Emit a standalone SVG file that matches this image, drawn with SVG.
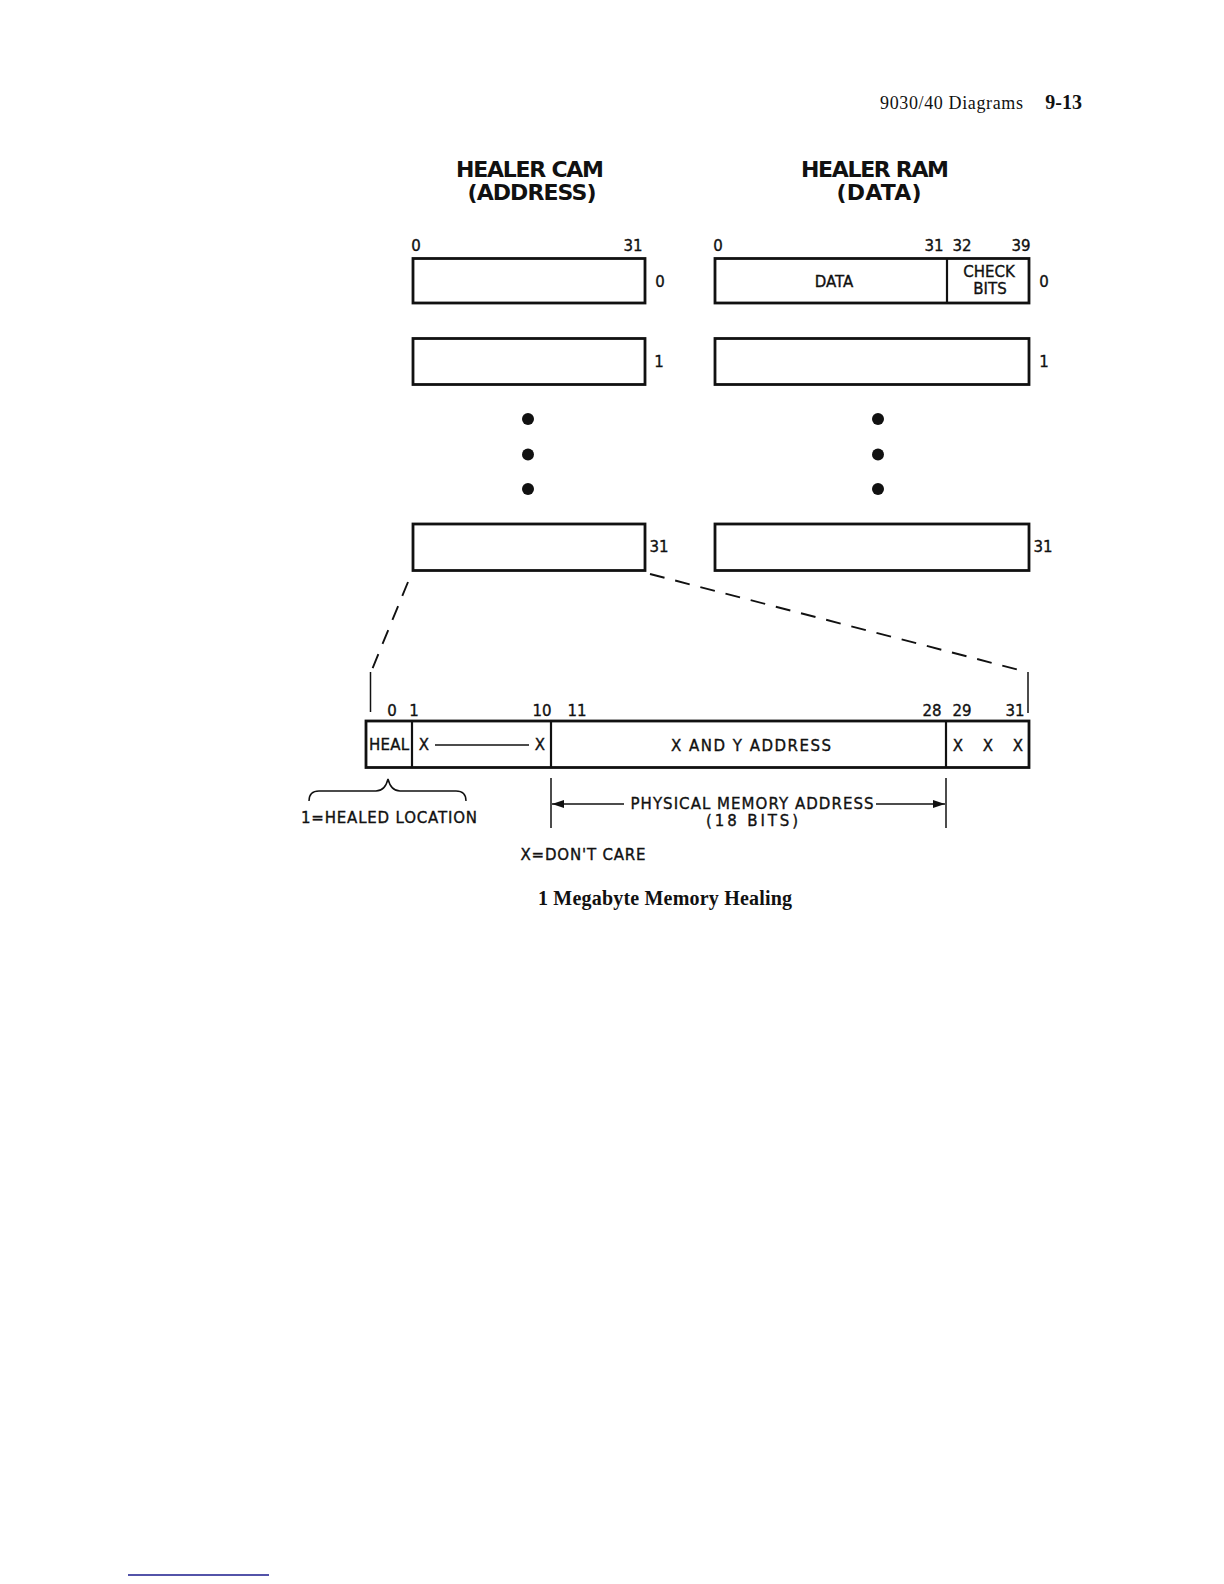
<svg xmlns="http://www.w3.org/2000/svg" width="1224" height="1584" viewBox="0 0 1224 1584">
<style>
.box{fill:none;stroke:#111;stroke-width:2.8}
.div{stroke:#111;stroke-width:2.2}
.t{font-family:"DejaVu Sans","Liberation Sans",sans-serif;font-size:15px;fill:#111;stroke:#111;stroke-width:0.35;text-anchor:middle;dominant-baseline:central}
.title{font-family:"DejaVu Sans","Liberation Sans",sans-serif;font-size:22px;font-weight:bold;fill:#111;text-anchor:middle;dominant-baseline:central}
.dash{fill:none;stroke:#111;stroke-width:1.9;stroke-dasharray:15 11}
.thin{fill:none;stroke:#111;stroke-width:1.5}
.dot{fill:#111}
</style>
<defs>
<marker id="ah" viewBox="0 0 12 8" refX="12" refY="4" markerWidth="13" markerHeight="8" orient="auto" markerUnits="userSpaceOnUse">
<path d="M0,0 L12,4 L0,8 Z" fill="#111"/>
</marker>
</defs>
<rect width="1224" height="1584" fill="#fff"/>

<g id="header">
<text x="1023" y="109" font-family="Liberation Serif,serif" font-size="18" text-anchor="end" fill="#111" textLength="143">9030/40 Diagrams</text>
<text x="1082" y="109" font-family="Liberation Serif,serif" font-size="20" font-weight="bold" text-anchor="end" fill="#111">9-13</text>
</g>

<g id="cam-title">
<text class="title" x="530" y="169" textLength="148">HEALER CAM</text>
<text class="title" x="532" y="192" textLength="129">(ADDRESS)</text>
</g>
<g id="ram-title">
<text class="title" x="875" y="169" textLength="148">HEALER RAM</text>
<text class="title" x="879" y="192" textLength="85">(DATA)</text>
</g>

<g id="cam-bits">
<text class="t" x="416" y="246">0</text>
<text class="t" x="633" y="246">31</text>
</g>
<g id="ram-bits">
<text class="t" x="718" y="246">0</text>
<text class="t" x="934" y="246">31</text>
<text class="t" x="962" y="246">32</text>
<text class="t" x="1021" y="246">39</text>
</g>

<g id="cam-row0">
<rect class="box" x="413" y="258.5" width="232" height="44.5"/>
<text class="t" x="660" y="282">0</text>
</g>
<g id="ram-row0">
<rect class="box" x="715" y="258.5" width="314" height="44.5"/>
<line class="div" x1="947" y1="258.5" x2="947" y2="303"/>
<text class="t" x="834" y="282">DATA</text>
<text class="t" x="989" y="272">CHECK</text>
<text class="t" x="990" y="289">BITS</text>
<text class="t" x="1044" y="282">0</text>
</g>

<g id="cam-row1">
<rect class="box" x="413" y="338.5" width="232" height="46"/>
<text class="t" x="659" y="362">1</text>
</g>
<g id="ram-row1">
<rect class="box" x="715" y="338.5" width="314" height="46"/>
<text class="t" x="1044" y="362">1</text>
</g>

<g id="cam-dots">
<circle class="dot" cx="528" cy="419" r="6"/>
<circle class="dot" cx="528" cy="454.5" r="6"/>
<circle class="dot" cx="528" cy="489" r="6"/>
</g>
<g id="ram-dots">
<circle class="dot" cx="878" cy="419" r="6"/>
<circle class="dot" cx="878" cy="454.5" r="6"/>
<circle class="dot" cx="878" cy="489" r="6"/>
</g>

<g id="cam-row31">
<rect class="box" x="413" y="524" width="232" height="46.5"/>
<text class="t" x="659" y="547">31</text>
</g>
<g id="ram-row31">
<rect class="box" x="715" y="524" width="314" height="46.5"/>
<text class="t" x="1043" y="547">31</text>
</g>

<g id="connectors">
<path class="dash" d="M408,582 L371,672"/>
<line class="thin" x1="370.5" y1="672" x2="370.5" y2="712"/>
<path class="dash" d="M650,574 L1027,672"/>
<line class="thin" x1="1028" y1="672" x2="1028" y2="713"/>
</g>

<g id="register-bits">
<text class="t" x="392" y="711">0</text>
<text class="t" x="414" y="711">1</text>
<text class="t" x="542" y="711">10</text>
<text class="t" x="577" y="711">11</text>
<text class="t" x="932" y="711">28</text>
<text class="t" x="962" y="711">29</text>
<text class="t" x="1015" y="711">31</text>
</g>

<g id="register">
<rect class="box" x="366" y="721" width="663" height="46.5"/>
<line class="div" x1="412" y1="721" x2="412" y2="767.5"/>
<line class="div" x1="551" y1="721" x2="551" y2="767.5"/>
<line class="div" x1="946" y1="721" x2="946" y2="767.5"/>
<text class="t" x="389" y="745" textLength="40">HEAL</text>
<text class="t" x="424" y="745">X</text>
<line class="thin" x1="435" y1="745" x2="529" y2="745"/>
<text class="t" x="540" y="745">X</text>
<text class="t" x="751" y="746" textLength="160">X AND Y ADDRESS</text>
<text class="t" x="958" y="746">X</text>
<text class="t" x="988" y="746">X</text>
<text class="t" x="1018" y="746">X</text>
</g>

<g id="heal-brace">
<path class="thin" stroke-width="3" d="M309,801 Q309,791 319,791 L376,791 Q385,791 388,779 Q391,791 400,791 L456,791 Q466,791 466,801"/>
<text class="t" x="389" y="818" textLength="176">1=HEALED LOCATION</text>
</g>

<g id="physical-address">
<line class="thin" x1="551" y1="778" x2="551" y2="828"/>
<line class="thin" x1="946" y1="778" x2="946" y2="828"/>
<line class="thin" x1="624" y1="804" x2="552" y2="804" marker-end="url(#ah)"/>
<line class="thin" x1="876" y1="804" x2="945" y2="804" marker-end="url(#ah)"/>
<text class="t" x="752" y="804" textLength="243">PHYSICAL MEMORY ADDRESS</text>
<text class="t" x="752" y="821" textLength="92">(18 BITS)</text>
</g>

<g id="legend">
<text class="t" x="583" y="855" textLength="125">X=DON'T CARE</text>
</g>

<g id="caption">
<text x="665" y="905" font-family="Liberation Serif,serif" font-size="20" font-weight="bold" text-anchor="middle" fill="#111" textLength="254">1 Megabyte Memory Healing</text>
</g>

<g id="footnote-rule">
<line x1="128" y1="1575" x2="269" y2="1575" stroke="#1a1a8c" stroke-width="1.6"/>
</g>
</svg>
